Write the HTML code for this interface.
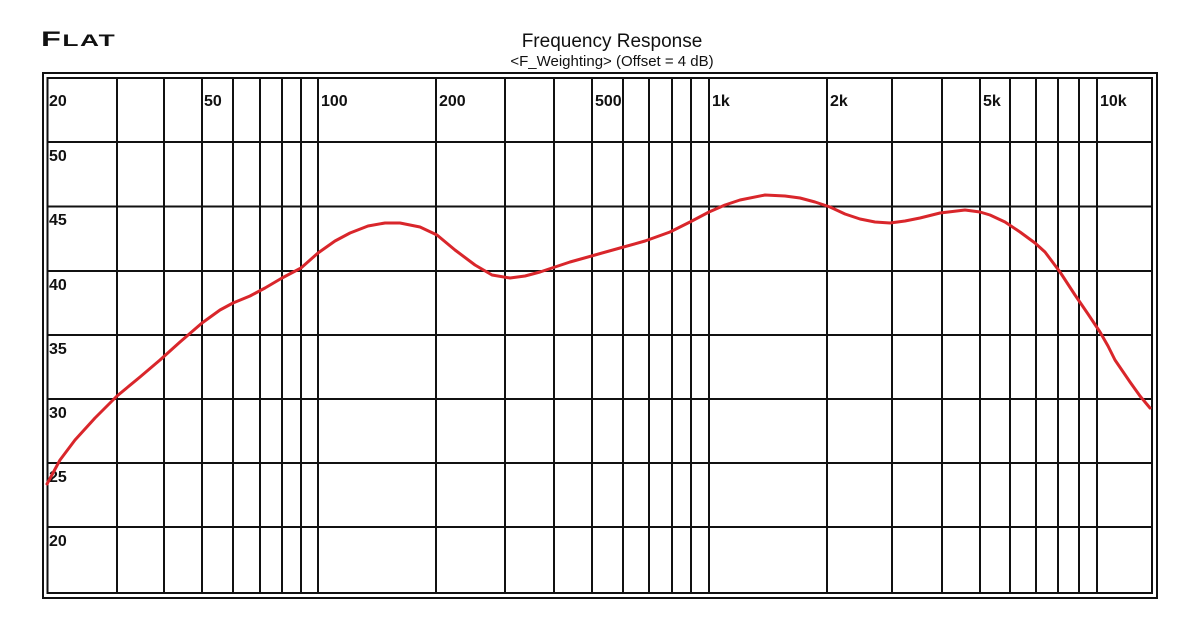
<!DOCTYPE html>
<html><head><meta charset="utf-8"><style>
body{margin:0;background:#fff;width:1200px;height:628px;overflow:hidden}
</style></head><body>
<svg width="1200" height="628" xmlns="http://www.w3.org/2000/svg" font-family="Liberation Sans, sans-serif">
<text transform="translate(41,46) scale(1.55,1)" font-weight="bold" fill="#111" letter-spacing="1"><tspan font-size="21">F</tspan><tspan font-size="17">LAT</tspan></text>
<text x="612" y="47" font-size="19" text-anchor="middle" fill="#111">Frequency Response</text>
<text x="612" y="66" font-size="15" text-anchor="middle" fill="#111">&lt;F_Weighting&gt; (Offset = 4 dB)</text>
<rect x="43" y="73" width="1114" height="525" fill="none" stroke="#111" stroke-width="2"/>
<rect x="47.5" y="78" width="1104.5" height="515" fill="none" stroke="#111" stroke-width="2"/>
<g stroke="#111" stroke-width="2">
<line x1="117" y1="78" x2="117" y2="593"/><line x1="164" y1="78" x2="164" y2="593"/>
<line x1="202" y1="78" x2="202" y2="593"/><line x1="233" y1="78" x2="233" y2="593"/>
<line x1="260" y1="78" x2="260" y2="593"/><line x1="282" y1="78" x2="282" y2="593"/>
<line x1="301" y1="78" x2="301" y2="593"/><line x1="318" y1="78" x2="318" y2="593"/>
<line x1="436" y1="78" x2="436" y2="593"/><line x1="505" y1="78" x2="505" y2="593"/>
<line x1="554" y1="78" x2="554" y2="593"/><line x1="592" y1="78" x2="592" y2="593"/>
<line x1="623" y1="78" x2="623" y2="593"/><line x1="649" y1="78" x2="649" y2="593"/>
<line x1="672" y1="78" x2="672" y2="593"/><line x1="691" y1="78" x2="691" y2="593"/>
<line x1="709" y1="78" x2="709" y2="593"/><line x1="827" y1="78" x2="827" y2="593"/>
<line x1="892" y1="78" x2="892" y2="593"/><line x1="942" y1="78" x2="942" y2="593"/>
<line x1="980" y1="78" x2="980" y2="593"/><line x1="1010" y1="78" x2="1010" y2="593"/>
<line x1="1036" y1="78" x2="1036" y2="593"/><line x1="1058" y1="78" x2="1058" y2="593"/>
<line x1="1079" y1="78" x2="1079" y2="593"/><line x1="1097" y1="78" x2="1097" y2="593"/>
<line x1="47" y1="142" x2="1152" y2="142"/><line x1="47" y1="206.5" x2="1152" y2="206.5"/>
<line x1="47" y1="271" x2="1152" y2="271"/><line x1="47" y1="335" x2="1152" y2="335"/>
<line x1="47" y1="399" x2="1152" y2="399"/><line x1="47" y1="463" x2="1152" y2="463"/>
<line x1="47" y1="527" x2="1152" y2="527"/>
</g>
<g font-size="16" font-weight="bold" fill="#111">
<text x="49" y="106">20</text><text x="204" y="106">50</text><text x="321" y="106">100</text>
<text x="439" y="106">200</text><text x="595" y="106">500</text><text x="712" y="106">1k</text>
<text x="830" y="106">2k</text><text x="983" y="106">5k</text><text x="1100" y="106">10k</text>
<text x="49" y="161">50</text><text x="49" y="225">45</text><text x="49" y="290">40</text>
<text x="49" y="354">35</text><text x="49" y="418">30</text><text x="49" y="482">25</text>
<text x="49" y="546">20</text>
</g>
<polyline fill="none" stroke="#d9262b" stroke-width="3" stroke-linejoin="round" stroke-linecap="round"
points="47,484 60,460 75,440 95,418 117,396 140,377 160,360 180,342 202,323 220,310 233,303 250,296 265,288 282,278 301,268 318,253 335,241 350,233 368,226 385,223 400,223 420,227 437,235 455,250 475,265 492,275 510,278 525,276 540,272 555,267 570,262 595,255 620,248 645,241 670,232 690,222 709,212 725,205 740,200 765,195 785,196 800,198 815,202 830,207 845,214 860,219 875,222 890,223 905,221 920,218 940,213 965,210 980,212 990,215 1005,222 1020,232 1035,243 1045,252 1060,272 1075,295 1088,314 1100,332 1108,346 1115,360 1130,382 1140,396 1150,408"/>
</svg>
</body></html>
